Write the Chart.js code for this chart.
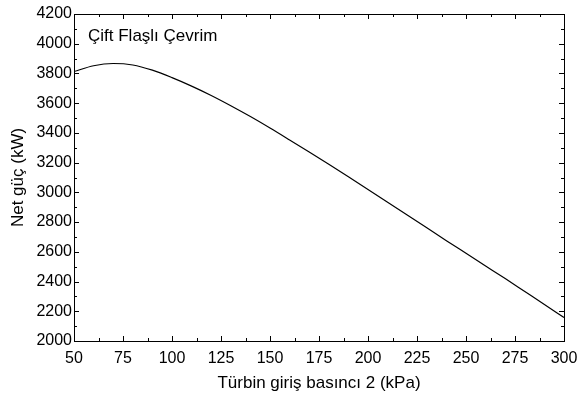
<!DOCTYPE html>
<html>
<head>
<meta charset="utf-8">
<script src="https://cdn.jsdelivr.net/npm/chart.js@4/dist/chart.umd.min.js"></script>
<style>
  html, body { margin: 0; padding: 0; background: #fff; }
  #wrap { width: 587px; height: 397px; }
</style>
</head>
<body>
<div id="wrap"><canvas id="netPowerChart"></canvas></div>
<script>
// Turbine inlet pressure 2 (kPa)
const pressures = [50, 60, 70, 80, 90, 100, 110, 120, 130, 140, 150, 160, 170, 180, 190,
    200, 210, 220, 230, 240, 250, 260, 270, 280, 290, 300];
// Net power (kW)
const netPower = [3813, 3852, 3867, 3857, 3822, 3772, 3715, 3652, 3583, 3510, 3433, 3353, 3272, 3189, 3105,
    3020, 2934, 2848, 2762, 2675, 2590, 2505, 2420, 2333, 2246, 2158];

const seriesLabel = 'Çift Flaşlı Çevrim';
const xTitle = 'Türbin giriş basıncı 2 (kPa)';
const yTitle = 'Net güç (kW)';

const FONT = '"Liberation Sans", Arial, sans-serif';

// Frame, inward ticks and the in-plot label
const framePlugin = {
    id: 'frame',
    afterDraw(chart) {
        const { ctx, chartArea: a, scales } = chart;
        ctx.save();
        ctx.strokeStyle = '#000';
        ctx.lineWidth = 1;
        ctx.strokeRect(a.left + 0.5, a.top + 0.5, a.right - a.left, a.bottom - a.top);

        const drawTicks = (scale, horizontal) => {
            const vals = scale.ticks.map(t => t.value);
            const step = vals[1] - vals[0];
            vals.forEach(v => {
                const p = Math.round(scale.getPixelForValue(v)) + 0.5;
                ctx.beginPath();
                if (horizontal) {
                    ctx.moveTo(p, a.bottom); ctx.lineTo(p, a.bottom - 5);
                    ctx.moveTo(p, a.top); ctx.lineTo(p, a.top + 5);
                } else {
                    ctx.moveTo(a.left, p); ctx.lineTo(a.left + 5, p);
                    ctx.moveTo(a.right, p); ctx.lineTo(a.right - 5, p);
                }
                ctx.stroke();
                const m = v + step / 2;
                if (m < scale.max) {
                    const q = Math.round(scale.getPixelForValue(m)) + 0.5;
                    ctx.beginPath();
                    if (horizontal) {
                        ctx.moveTo(q, a.bottom); ctx.lineTo(q, a.bottom - 3);
                        ctx.moveTo(q, a.top); ctx.lineTo(q, a.top + 3);
                    } else {
                        ctx.moveTo(a.left, q); ctx.lineTo(a.left + 3, q);
                        ctx.moveTo(a.right, q); ctx.lineTo(a.right - 3, q);
                    }
                    ctx.stroke();
                }
            });
        };
        drawTicks(scales.x, true);
        drawTicks(scales.y, false);

        ctx.fillStyle = '#000';
        ctx.font = '17px ' + FONT;
        ctx.textBaseline = 'alphabetic';
        ctx.fillText(seriesLabel, a.left + 14, a.top + 27);
        ctx.restore();
    }
};

document.addEventListener('DOMContentLoaded', () => {
    const ctx = document.getElementById('netPowerChart').getContext('2d');
    new Chart(ctx, {
        type: 'line',
        data: {
            labels: pressures,
            datasets: [{
                label: seriesLabel,
                data: pressures.map((p, i) => ({ x: p, y: netPower[i] })),
                borderColor: '#000',
                borderWidth: 1.2,
                pointRadius: 0,
                cubicInterpolationMode: 'monotone',
                fill: false
            }]
        },
        options: {
            responsive: true,
            maintainAspectRatio: false,
            animation: false,
            layout: { padding: { top: 14, right: 23, left: 0, bottom: 0 } },
            plugins: {
                legend: { display: false },
                tooltip: { enabled: false }
            },
            scales: {
                x: {
                    type: 'linear',
                    min: 50,
                    max: 300,
                    afterFit: s => { s.height = 56; },
                    grid: { display: false, drawTicks: false },
                    border: { display: false },
                    ticks: { stepSize: 25, color: '#000', padding: 8, maxRotation: 0,
                        callback: v => String(v),
                        font: { family: FONT, size: 16 } },
                    title: { display: true, text: xTitle, color: '#000', padding: { top: 0, bottom: 3 },
                        font: { family: FONT, size: 17 } }
                },
                y: {
                    min: 2000,
                    max: 4200,
                    afterFit: s => { s.width = 74; },
                    grid: { display: false, drawTicks: false },
                    border: { display: false },
                    ticks: { stepSize: 200, color: '#000', padding: 2,
                        callback: v => String(v),
                        font: { family: FONT, size: 16 } },
                    title: { display: true, text: yTitle, color: '#000', padding: { top: 8, bottom: 0 },
                        font: { family: FONT, size: 17 } }
                }
            }
        },
        plugins: [framePlugin]
    });
});
</script>
</body>
</html>
